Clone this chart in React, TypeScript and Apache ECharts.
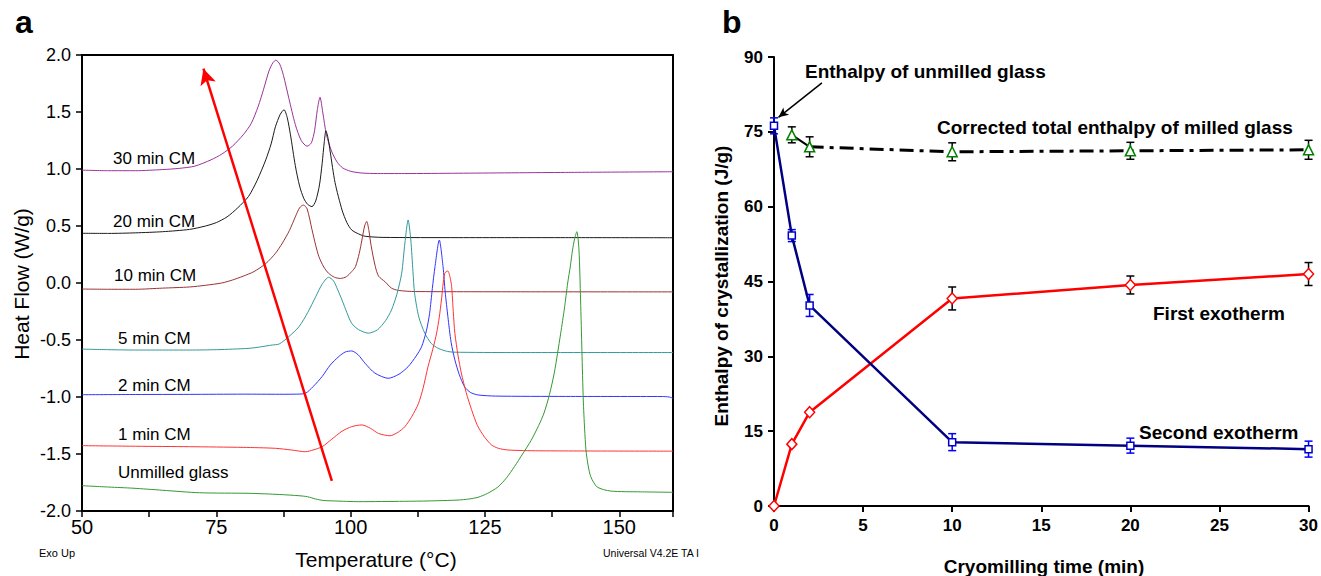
import React, { useEffect, useRef } from 'react';
import * as echarts from 'echarts';

const FONT = '"Liberation Sans", Arial, Helvetica, sans-serif';

// ---------- Panel a: DSC curves (Temperature °C, Heat Flow W/g) ----------
const curve30: number[][] = [[50,0.99],[55,0.985],[60,0.985],[65,0.995],[68,1.005],[71,1.025],[74,1.08],[76,1.13],[78,1.2],[80,1.3],[81.5,1.4],[82.8,1.55],[83.8,1.7],[84.8,1.86],[85.5,1.93],[86.1,1.955],[86.8,1.92],[87.5,1.82],[88.5,1.62],[89.7,1.39],[90.8,1.25],[91.9,1.2],[92.7,1.23],[93.3,1.34],[93.8,1.52],[94.3,1.63],[94.8,1.5],[95.5,1.3],[96.5,1.15],[97.5,1.06],[98.5,1.01],[100,0.98],[102,0.965],[105,0.96],[110,0.96],[120,0.963],[140,0.97],[160,0.976]];
const curve20: number[][] = [[50,0.436],[55,0.435],[60,0.44],[65,0.45],[70,0.47],[73,0.5],[75,0.53],[77,0.58],[79,0.66],[81,0.76],[82.6,0.9],[84.2,1.08],[85.2,1.22],[86,1.37],[86.9,1.48],[87.6,1.52],[88.2,1.45],[88.8,1.3],[89.7,1.03],[90.5,0.85],[91.3,0.74],[92,0.69],[92.8,0.67],[93.5,0.72],[94.2,0.86],[94.7,1.05],[95.1,1.24],[95.4,1.335],[95.8,1.27],[96.2,1.15],[97.1,0.88],[98.4,0.64],[99.3,0.53],[100.2,0.465],[101.5,0.43],[102.7,0.41],[106,0.4],[120,0.398],[140,0.398],[160,0.397]];
const curve10: number[][] = [[50,-0.053],[55,-0.055],[60,-0.055],[65,-0.045],[70,-0.035],[73,-0.02],[76,0.0],[78,0.026],[80,0.06],[82,0.1],[84.2,0.17],[86,0.26],[87.3,0.35],[88.6,0.46],[89.7,0.58],[90.5,0.66],[91.2,0.684],[91.9,0.65],[92.8,0.47],[93.5,0.33],[94.1,0.23],[95,0.14],[95.9,0.085],[97,0.05],[98.1,0.04],[99.2,0.055],[100.2,0.1],[100.9,0.143],[101.6,0.26],[102.1,0.377],[102.6,0.5],[103,0.54],[103.4,0.46],[103.8,0.33],[104.6,0.143],[105.2,0.06],[106.4,0.011],[107.6,-0.045],[108.9,-0.065],[112,-0.075],[130,-0.077],[160,-0.078]];
const curve5: number[][] = [[50,-0.58],[55,-0.585],[60,-0.588],[65,-0.588],[70,-0.588],[75,-0.585],[78,-0.58],[81.1,-0.573],[83,-0.562],[85.4,-0.544],[86.7,-0.535],[88.5,-0.47],[90.4,-0.383],[92,-0.26],[93.5,-0.12],[94.7,-0.01],[95.9,0.05],[96.8,0.02],[97.6,-0.06],[98.4,-0.15],[99.3,-0.26],[100.2,-0.354],[101.5,-0.41],[103.3,-0.44],[105,-0.41],[106.5,-0.33],[107.6,-0.237],[108.6,-0.1],[109.5,0.085],[110.1,0.35],[110.7,0.553],[111.2,0.377],[111.6,0.1],[111.9,-0.09],[112.7,-0.3],[113.8,-0.44],[115,-0.53],[116.3,-0.573],[118,-0.6],[119.4,-0.607],[130,-0.61],[160,-0.61]];
const curve2: number[][] = [[50,-0.98],[60,-0.978],[70,-0.977],[80,-0.975],[86.7,-0.976],[90,-0.975],[91.6,-0.967],[93,-0.91],[94.7,-0.82],[96.2,-0.72],[97.8,-0.645],[99,-0.605],[100.2,-0.596],[101.4,-0.63],[102.7,-0.705],[104.5,-0.79],[107,-0.836],[109,-0.8],[110.7,-0.734],[112.2,-0.64],[113.2,-0.56],[114.1,-0.42],[114.7,-0.266],[115.2,-0.05],[115.7,0.143],[116.5,0.377],[117.2,0.143],[117.6,-0.08],[118.1,-0.295],[118.7,-0.52],[119.4,-0.675],[120.2,-0.8],[121.2,-0.91],[122.3,-0.96],[123.7,-0.982],[127,-0.992],[140,-0.995],[158,-0.996],[159.3,-1.0],[160,-1.012]];
const curve1: number[][] = [[50,-1.427],[60,-1.432],[70,-1.436],[80,-1.442],[86,-1.45],[89,-1.465],[91.6,-1.48],[93,-1.465],[94.7,-1.436],[96.5,-1.37],[98.4,-1.3],[100.2,-1.26],[102.1,-1.245],[103.7,-1.275],[105.2,-1.32],[107.3,-1.34],[108.8,-1.31],[110.1,-1.26],[111.4,-1.17],[112.6,-1.06],[113.5,-0.92],[114.4,-0.734],[115.3,-0.58],[116,-0.44],[116.5,-0.3],[116.9,-0.149],[117.5,0.085],[118.1,0.105],[118.5,0.05],[118.8,-0.03],[119.1,-0.25],[119.4,-0.44],[120,-0.64],[120.6,-0.79],[121.5,-0.96],[122.5,-1.11],[123.6,-1.25],[124.9,-1.35],[126.2,-1.42],[127.5,-1.45],[129.3,-1.465],[135,-1.472],[160,-1.475]];
const curveUnmilled: number[][] = [[50,-1.778],[55,-1.79],[59.5,-1.8],[65,-1.818],[71.9,-1.84],[81.1,-1.845],[86.7,-1.855],[90.4,-1.866],[92,-1.875],[93.5,-1.895],[95,-1.908],[97,-1.912],[101.5,-1.918],[110,-1.915],[114.4,-1.912],[120,-1.904],[122,-1.895],[123.7,-1.88],[125.5,-1.845],[127.4,-1.79],[129,-1.71],[130.5,-1.61],[132,-1.5],[133.6,-1.38],[135,-1.25],[136,-1.14],[137,-0.98],[137.9,-0.79],[138.5,-0.62],[139.1,-0.44],[139.8,-0.22],[140.4,0.0],[140.9,0.15],[141.3,0.29],[141.7,0.39],[142.1,0.45],[142.5,0.29],[142.8,-0.149],[143.05,-0.6],[143.3,-1.026],[143.55,-1.28],[143.8,-1.465],[144.2,-1.6],[144.7,-1.7],[145.9,-1.79],[148.4,-1.825],[154,-1.832],[160,-1.836]];

const dscLabels = ['30 min CM', '20 min CM', '10 min CM', '5 min CM', '2 min CM', '1 min CM', 'Unmilled glass'];
const dscCurves = [curve30, curve20, curve10, curve5, curve2, curve1, curveUnmilled];
// arrow (tail -> head) in data coords
const arrowTail = [96.5, -1.735];
const arrowHead = [72.6, 1.88];

// layout / style (not data)
const dscColors = ['#993399', '#1a1a1a', '#993333', '#339999', '#3333ff', '#ff3333', '#339933'];
const dscLabelPos = [[113, 158], [113, 221], [114, 275], [118, 338], [118, 385], [118, 434], [118, 472]];

// ---------- Panel b: enthalpy vs cryomilling time ----------
const millTime = [0, 1, 2, 10, 20, 30];
const firstExo = [0, 12.4, 18.8, 41.6, 44.3, 46.5];
const firstExoErr = [0, 0, 0, 2.3, 1.8, 2.3];
const secondExo = [76.2, 54.2, 40.2, 12.8, 12.1, 11.4];
const secondExoErr = [1.6, 1.2, 2.2, 1.7, 1.5, 1.6];
const totalTime = [1, 2, 10, 20, 30];
const totalH = [74.4, 72.0, 71.0, 71.2, 71.4];
const totalErr = [1.6, 2.0, 1.8, 1.7, 1.9];
const unmilledArrowFrom = [2.69, 84.8];
const unmilledArrowTo = [0.25, 77.9];

function errorBars(times: number[], vals: number[], errs: number[], color: string) {
  return {
    type: 'custom',
    xAxisIndex: 1,
    yAxisIndex: 1,
    clip: false,
    silent: true,
    z: 3,
    data: times.map((t, i) => [t, vals[i], errs[i]]).filter((d) => d[2] > 0),
    renderItem: (_p: any, api: any) => {
      const x = api.value(0);
      const y = api.value(1);
      const e = api.value(2);
      const top = api.coord([x, y + e]);
      const bot = api.coord([x, y - e]);
      const w = 4;
      const style = { stroke: color, lineWidth: 1.5 };
      return {
        type: 'group',
        children: [
          { type: 'line', shape: { x1: top[0], y1: top[1], x2: bot[0], y2: bot[1] }, style },
          { type: 'line', shape: { x1: top[0] - w, y1: top[1], x2: top[0] + w, y2: top[1] }, style },
          { type: 'line', shape: { x1: bot[0] - w, y1: bot[1], x2: bot[0] + w, y2: bot[1] }, style },
        ],
      };
    },
  };
}

function txt(text: string, x: number, y: number, size: number, opts: any = {}) {
  return {
    type: 'text',
    x,
    y,
    rotation: opts.rotation || 0,
    silent: true,
    style: {
      text,
      fill: '#000',
      fontFamily: FONT,
      fontSize: size,
      fontWeight: opts.bold ? 'bold' : 'normal',
      align: opts.align || 'left',
      verticalAlign: 'middle',
    },
  };
}

export default function App() {
  const ref = useRef<HTMLDivElement>(null);
  useEffect(() => {
    document.body.style.margin = '0';
    const chart = echarts.init(ref.current!, undefined, { renderer: 'svg' });

    const axisLineA = { show: true, onZero: false, lineStyle: { color: '#000', width: 2 } };
    const tickA = { show: true, inside: false, length: 6, lineStyle: { color: '#000', width: 1.5 } };

    const dscSeries: any[] = dscCurves.map((c, i) => ({
      type: 'line',
      xAxisIndex: 0,
      yAxisIndex: 0,
      data: c,
      symbol: 'none',
      showSymbol: false,
      smooth: 0.25,
      silent: true,
      z: 2,
      lineStyle: { color: dscColors[i], width: 1 },
    }));
    dscSeries[0].markLine = {
      silent: true,
      animation: false,
      symbol: ['none', 'arrow'],
      symbolSize: [12, 16],
      label: { show: false },
      lineStyle: { color: '#ff0000', width: 2.5, type: 'solid' },
      data: [[{ coord: arrowTail }, { coord: arrowHead }]],
    };

    const option: any = {
      animation: false,
      grid: [
        { left: 82, top: 55, width: 591, height: 456, show: true, borderColor: '#000', borderWidth: 2, backgroundColor: 'transparent' },
        { left: 774, top: 57, width: 536, height: 449, show: false },
      ],
      xAxis: [
        {
          type: 'value', gridIndex: 0, min: 50, max: 160, interval: 12.5,
          axisLine: axisLineA, axisTick: tickA, splitLine: { show: false },
          axisLabel: {
            formatter: (v: number) => (v % 25 === 0 && v <= 150 ? String(v) : ''),
            fontSize: 20, color: '#000', fontFamily: FONT, margin: 6,
          },
        },
        {
          type: 'value', gridIndex: 1, min: 0, max: 30, interval: 5,
          axisLine: { show: true, onZero: false, lineStyle: { color: '#000', width: 2 } },
          axisTick: { show: true, inside: false, length: 6, lineStyle: { color: '#000', width: 2 } },
          splitLine: { show: false },
          axisLabel: { fontSize: 17, fontWeight: 'bold', color: '#000', fontFamily: FONT, margin: 11 },
        },
      ],
      yAxis: [
        {
          type: 'value', gridIndex: 0, min: -2, max: 2, interval: 0.5,
          axisLine: axisLineA, axisTick: tickA, splitLine: { show: false },
          axisLabel: { formatter: (v: number) => v.toFixed(1), fontSize: 18, color: '#000', fontFamily: FONT, margin: 11 },
        },
        {
          type: 'value', gridIndex: 1, min: 0, max: 90, interval: 15,
          axisLine: { show: true, onZero: false, lineStyle: { color: '#000', width: 2 } },
          axisTick: { show: true, inside: false, length: 6, lineStyle: { color: '#000', width: 2 } },
          splitLine: { show: false },
          axisLabel: { fontSize: 17, fontWeight: 'bold', color: '#000', fontFamily: FONT, margin: 11 },
        },
      ],
      series: [
        ...dscSeries,
        errorBars(millTime, firstExo, firstExoErr, '#000'),
        errorBars(millTime, secondExo, secondExoErr, '#0000ff'),
        errorBars(totalTime, totalH, totalErr, '#000'),
        {
          type: 'line', xAxisIndex: 1, yAxisIndex: 1, z: 4, silent: true,
          data: totalTime.slice(1).map((t, i) => [t, totalH[i + 1]]),
          symbol: 'none', showSymbol: false,
          lineStyle: { color: '#000', width: 3, type: [14, 6, 4, 6] },
        },
        {
          type: 'line', xAxisIndex: 1, yAxisIndex: 1, z: 4, silent: true,
          data: totalTime.slice(0, 2).map((t, i) => [t, totalH[i]]),
          symbol: 'none', showSymbol: false,
          lineStyle: { color: '#000', width: 2 },
        },
        {
          type: 'line', xAxisIndex: 1, yAxisIndex: 1, z: 5, silent: true,
          data: millTime.map((t, i) => [t, firstExo[i]]),
          symbol: 'diamond', symbolSize: [10, 11], showSymbol: true,
          lineStyle: { color: '#ff0000', width: 2.5 },
          itemStyle: { color: '#ffffff', borderColor: '#ff0000', borderWidth: 1.5 },
        },
        {
          type: 'line', xAxisIndex: 1, yAxisIndex: 1, z: 5, silent: true,
          data: millTime.map((t, i) => [t, secondExo[i]]),
          symbol: 'rect', symbolSize: 7, showSymbol: true,
          lineStyle: { color: '#000080', width: 2.5 },
          itemStyle: { color: '#ffffff', borderColor: '#0000cc', borderWidth: 1.5 },
          markLine: {
            silent: true,
            animation: false,
            symbol: ['none', 'arrow'],
            symbolSize: [7, 10],
            label: { show: false },
            lineStyle: { color: '#000', width: 1.5, type: 'solid' },
            data: [[{ coord: unmilledArrowFrom }, { coord: unmilledArrowTo }]],
          },
        },
        {
          type: 'scatter', xAxisIndex: 1, yAxisIndex: 1, z: 6, silent: true,
          data: totalTime.map((t, i) => [t, totalH[i]]),
          symbol: 'triangle', symbolSize: 10,
          itemStyle: { color: '#ffffff', borderColor: '#008000', borderWidth: 1.5, opacity: 1 },
        },
      ],
      graphic: [
        txt('a', 15, 22, 32, { bold: true }),
        txt('b', 722, 22, 32, { bold: true }),
        ...dscLabels.map((l, i) => txt(l, dscLabelPos[i][0], dscLabelPos[i][1], 17)),
        txt('Heat Flow (W/g)', 21, 284, 21, { rotation: Math.PI / 2, align: 'center' }),
        txt('Temperature (°C)', 376, 559, 21, { align: 'center' }),
        txt('Exo Up', 39, 553, 11),
        txt('Universal V4.2E TA I', 603, 553, 10.5),
        txt('Enthalpy of unmilled glass', 805, 71, 19, { bold: true }),
        txt('Corrected total enthalpy of milled glass', 937, 127, 19, { bold: true }),
        txt('First exotherm', 1153, 313, 19, { bold: true }),
        txt('Second exotherm', 1139, 432, 19, { bold: true }),
        txt('Enthalpy of crystallization (J/g)', 721, 286, 19, { bold: true, rotation: Math.PI / 2, align: 'center' }),
        txt('Cryomilling time (min)', 1044, 566, 19, { bold: true, align: 'center' }),
      ],
    };
    chart.setOption(option);
    return () => chart.dispose();
  }, []);
  return <div ref={ref} style={{ width: 1321, height: 576 }} />;
}
